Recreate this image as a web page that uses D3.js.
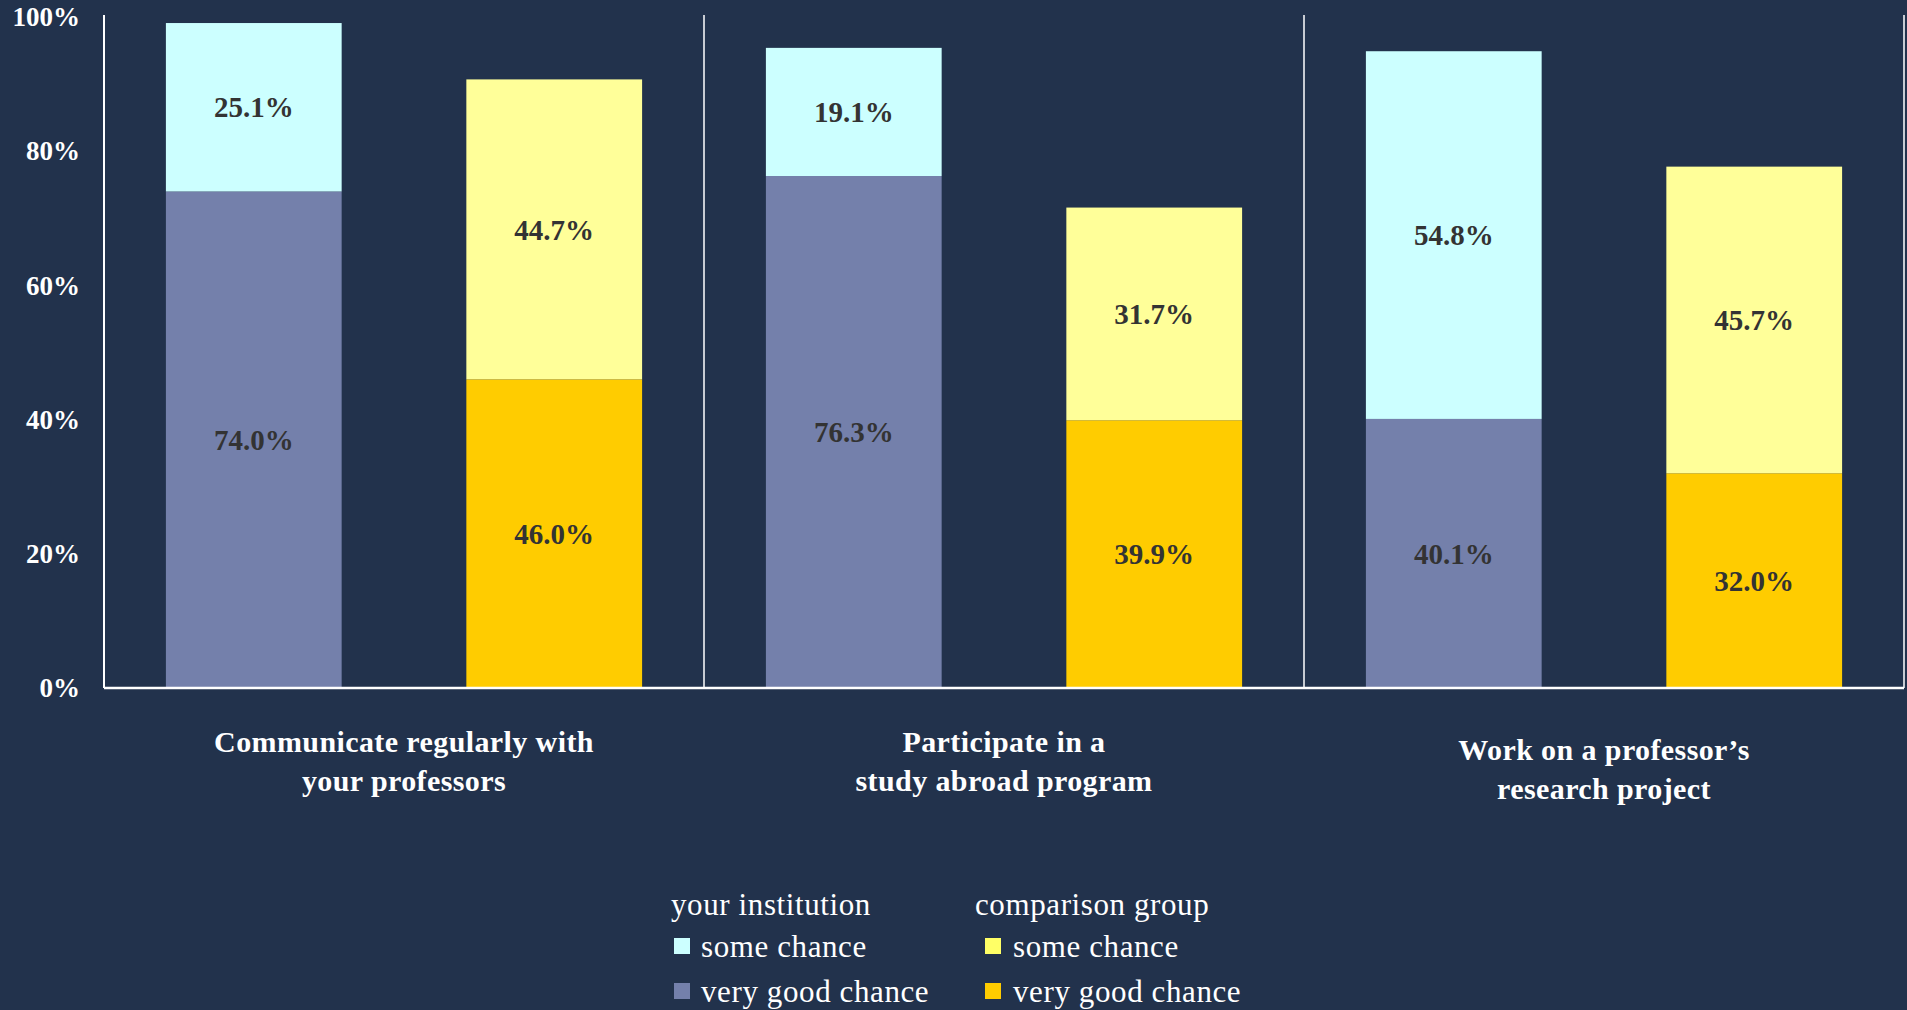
<!DOCTYPE html>
<html>
<head>
<meta charset="utf-8">
<script src="https://cdn.jsdelivr.net/npm/d3@7"></script>
<style>
  html, body { margin: 0; padding: 0; background: #22324c; }
  svg { display: block; }
  text { font-family: "Liberation Serif", "DejaVu Serif", serif; }
</style>
</head>
<body>
<svg id="chart"></svg>
<script>
// chart data
var categories = [
  ["Communicate regularly with", "your professors"],
  ["Participate in a", "study abroad program"],
  ["Work on a professor\u2019s", "research project"]
];
var groups = ["your institution", "comparison group"];
var instVeryGood = [74.0, 76.3, 40.1];
var instSome = [25.1, 19.1, 54.8];
var compVeryGood = [46.0, 39.9, 32.0];
var compSome = [44.7, 31.7, 45.7];
var yTicks = [0, 20, 40, 60, 80, 100];

var W = 1907, H = 1010;
var margin = {top: 17, left: 104, right: 3, bottom: 322};
var width = W - margin.left - margin.right,
    height = H - margin.top - margin.bottom;

var colors = {
  instSome: "#ccffff", instGood: "#7480ab",
  compSome: "#ffff99", compGood: "#ffcc00"
};

var svg = d3.select("#chart")
  .attr("width", W)
  .attr("height", H);

svg.append("rect")
  .attr("width", W).attr("height", H)
  .attr("fill", "#22324c");

var g = svg.append("g")
  .attr("transform", "translate(" + margin.left + "," + margin.top + ")");

var y = d3.scaleLinear()
  .domain([0, 100])
  .range([height, 0]);

var x0 = d3.scaleBand()
  .domain(d3.range(categories.length))
  .range([0, width]);

var x1 = d3.scaleBand()
  .domain(groups)
  .range([0, x0.bandwidth()])
  .paddingInner(0.415)
  .paddingOuter(0.206);

// build stacked segments
var segments = [];
categories.forEach(function(c, i){
  segments.push({cat: i, grp: groups[0], lo: 0, hi: instVeryGood[i], v: instVeryGood[i], color: colors.instGood});
  segments.push({cat: i, grp: groups[0], lo: instVeryGood[i], hi: instVeryGood[i] + instSome[i], v: instSome[i], color: colors.instSome});
  segments.push({cat: i, grp: groups[1], lo: 0, hi: compVeryGood[i], v: compVeryGood[i], color: colors.compGood});
  segments.push({cat: i, grp: groups[1], lo: compVeryGood[i], hi: compVeryGood[i] + compSome[i], v: compSome[i], color: colors.compSome});
});

g.selectAll("rect.seg")
  .data(segments)
  .enter()
  .append("rect")
  .attr("class", "seg")
  .attr("x", function(d){ return x0(d.cat) + x1(d.grp); })
  .attr("width", x1.bandwidth())
  .attr("y", function(d){ return y(d.hi); })
  .attr("height", function(d){ return y(d.lo) - y(d.hi); })
  .attr("fill", function(d){ return d.color; });

g.selectAll("text.val")
  .data(segments)
  .enter()
  .append("text")
  .attr("class", "val")
  .attr("x", function(d){ return x0(d.cat) + x1(d.grp) + x1.bandwidth() / 2; })
  .attr("y", function(d){ return y((d.lo + d.hi) / 2); })
  .attr("dy", "0.35em")
  .attr("text-anchor", "middle")
  .style("font-size", "29px")
  .style("font-weight", "bold")
  .style("fill", "#333333")
  .text(function(d){ return d.v.toFixed(1) + "%"; });

// y axis labels
var yAxis = d3.axisLeft(y)
  .tickValues(yTicks)
  .tickSize(0)
  .tickPadding(24)
  .tickFormat(function(d){ return d + "%"; });

var ya = g.append("g").call(yAxis);
ya.select(".domain").remove();
ya.selectAll("text")
  .style("font-family", "'Liberation Serif', serif")
  .style("font-size", "27px")
  .style("font-weight", "bold")
  .style("fill", "#ffffff");

// frame lines: left axis, separators, baseline
var lineTop = y(100) - 2;
g.append("line")
  .attr("x1", 0).attr("x2", 0)
  .attr("y1", lineTop).attr("y2", height)
  .attr("stroke", "#ffffff").attr("stroke-width", 2);

g.selectAll("line.sep")
  .data(d3.range(1, categories.length + 1))
  .enter()
  .append("line")
  .attr("class", "sep")
  .attr("x1", function(d){ return d < categories.length ? x0(d) : width; })
  .attr("x2", function(d){ return d < categories.length ? x0(d) : width; })
  .attr("y1", lineTop).attr("y2", height)
  .attr("stroke", "#ffffff").attr("stroke-width", 1.5);

g.append("line")
  .attr("x1", 0).attr("x2", width)
  .attr("y1", height).attr("y2", height)
  .attr("stroke", "#ffffff").attr("stroke-width", 2.5);

// category labels
var labelShift = [0, 0, 8];
var cl = g.selectAll("text.cat")
  .data(categories)
  .enter()
  .append("text")
  .attr("class", "cat")
  .attr("x", function(d, i){ return x0(i) + x0.bandwidth() / 2; })
  .attr("y", function(d, i){ return height + 64 + labelShift[i]; })
  .attr("text-anchor", "middle")
  .style("font-size", "30px")
  .style("letter-spacing", "0.4px")
  .style("font-weight", "bold")
  .style("fill", "#ffffff");

cl.selectAll("tspan")
  .data(function(d){ return d; })
  .enter()
  .append("tspan")
  .attr("x", function(){ return d3.select(this.parentNode).attr("x"); })
  .attr("dy", function(d, i){ return i === 0 ? 0 : 39; })
  .text(function(d){ return d; });

// legend
var legendItems = [
  {col: 0, row: 1, label: "some chance", color: colors.instSome},
  {col: 0, row: 2, label: "very good chance", color: colors.instGood},
  {col: 1, row: 1, label: "some chance", color: "#ffff66"},
  {col: 1, row: 2, label: "very good chance", color: colors.compGood}
];
var legendX = [671, 975], legendY = [904, 946, 991];

var legend = svg.append("g")
  .style("font-size", "31px")
  .style("letter-spacing", "0.6px");

legend.selectAll("text.head")
  .data(groups)
  .enter()
  .append("text")
  .attr("x", function(d, i){ return legendX[i]; })
  .attr("y", legendY[0])
  .attr("dy", "0.35em")
  .style("fill", "#ffffff")
  .text(function(d){ return d; });

legend.selectAll("rect")
  .data(legendItems)
  .enter()
  .append("rect")
  .attr("x", function(d){ return legendX[d.col] + 3 + d.col * 7; })
  .attr("y", function(d){ return legendY[d.row] - 8; })
  .attr("width", 16).attr("height", 16)
  .attr("fill", function(d){ return d.color; });

legend.selectAll("text.item")
  .data(legendItems)
  .enter()
  .append("text")
  .attr("class", "item")
  .attr("x", function(d){ return legendX[d.col] + 30 + d.col * 8; })
  .attr("y", function(d){ return legendY[d.row]; })
  .attr("dy", "0.35em")
  .style("fill", "#ffffff")
  .text(function(d){ return d.label; });
</script>
</body>
</html>
